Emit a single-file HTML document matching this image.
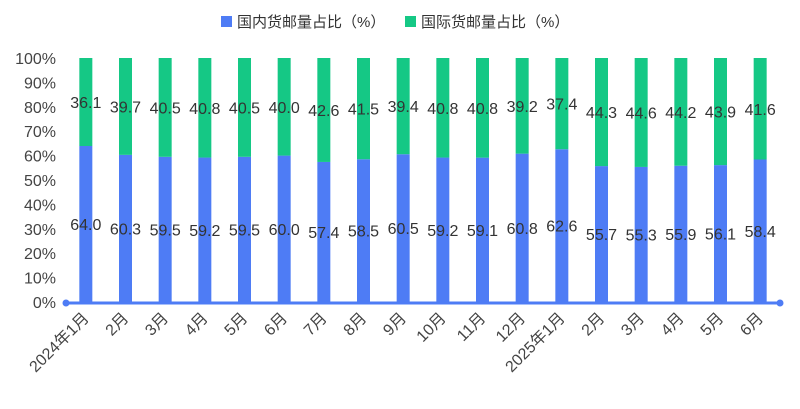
<!DOCTYPE html>
<html><head><meta charset="utf-8"><style>
body{margin:0;background:#fff;}
svg text{font-family:"Liberation Sans","Noto Sans CJK SC",sans-serif;}
</style></head><body>
<svg id="c" width="800" height="404"></svg>
<script>
const categories=["2024年1月","2月","3月","4月","5月","6月","7月","8月","9月","10月","11月","12月","2025年1月","2月","3月","4月","5月","6月"];
const domestic=[64.0,60.3,59.5,59.2,59.5,60.0,57.4,58.5,60.5,59.2,59.1,60.8,62.6,55.7,55.3,55.9,56.1,58.4];
const intl=[36.1,39.7,40.5,40.8,40.5,40.0,42.6,41.5,39.4,40.8,40.8,39.2,37.4,44.3,44.6,44.2,43.9,41.6];
const yTicks=[0,10,20,30,40,50,60,70,80,90,100];
const NS="http://www.w3.org/2000/svg";
const svg=document.getElementById('c');
const x0=66,x1=780,y0=302,y1=58;
const band=(x1-x0)/categories.length;
const xc=i=>x0+band*(i+0.5);
const y=v=>y0-(y0-y1)*v/100;
function mk(t,a){const e=document.createElementNS(NS,t);for(const k in a)e.setAttribute(k,a[k]);svg.appendChild(e);return e;}
yTicks.forEach(v=>{const t=mk('text',{x:56,y:y(v)+6,'text-anchor':'end','font-size':16,fill:'#444'});t.textContent=v+'%';

});
categories.forEach((c,i)=>{
 const total=domestic[i]+intl[i];
 const d=domestic[i]/total*100;
 const b=mk('rect',{x:xc(i)-6.5,y:y(d),width:13,height:y(0)-y(d),fill:'#4e7cf5'});
 
 
 const g=mk('rect',{x:xc(i)-6.5,y:y(100),width:13,height:y(d)-y(100),fill:'#15c885'});
 
 
 const t1=mk('text',{x:xc(i),y:(y(0)+y(d))/2+6,'text-anchor':'middle','font-size':16,fill:'#333'});t1.textContent=domestic[i].toFixed(1);
 
 
 const t2=mk('text',{x:xc(i),y:(y(d)+y(100))/2+6,'text-anchor':'middle','font-size':16,fill:'#333'});t2.textContent=intl[i].toFixed(1);
 
 
 const xl=mk('text',{x:xc(i)+4,y:319,'text-anchor':'end','font-size':16,fill:'#444',transform:`rotate(-45 ${xc(i)+4} 319)`});xl.textContent=c;
 
 
});
const ax=mk('line',{x1:x0,x2:x1,y1:y0+1,y2:y0+1,stroke:'#4e7cf5','stroke-width':3});


[x0,x1].forEach(px=>{const d=mk('circle',{cx:px,cy:y0+1,r:3.5,fill:'#4e7cf5'});

});
const legend=[["国内货邮量占比（%）",'#4e7cf5',221],["国际货邮量占比（%）",'#15c885',405]];
legend.forEach(l=>{const r=mk('rect',{x:l[2],y:16,width:11,height:11,fill:l[1]});


const t=mk('text',{x:l[2]+16,y:27,'font-size':15,fill:'#333'});t.textContent=l[0];

});
</script>
</body></html>
